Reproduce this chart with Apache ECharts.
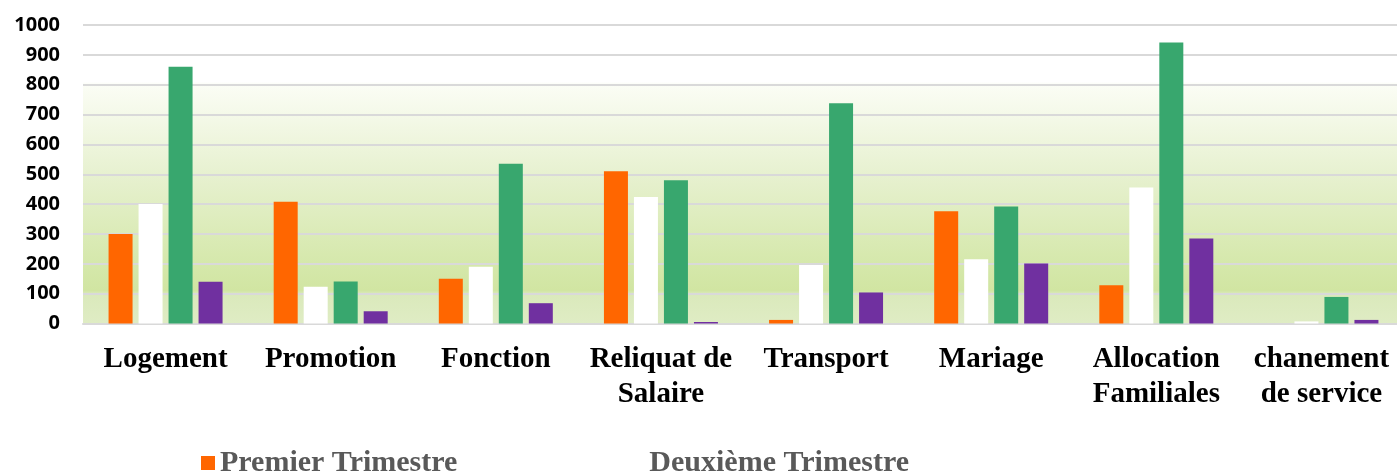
<!DOCTYPE html>
<html>
<head>
<meta charset="utf-8">
<script src="https://cdn.jsdelivr.net/npm/echarts@6/dist/echarts.min.js"></script>
<style>
html,body{margin:0;padding:0;background:#fff;overflow:hidden;}
#chart{width:1404px;height:473px;}
</style>
</head>
<body>
<div id="chart"></div>
<script>
// categories and values
const categories = ['Logement','Promotion','Fonction','Reliquat de\nSalaire','Transport','Mariage','Allocation\nFamiliales','chanement\nde service'];
const premier   = [300, 408, 150, 510, 12, 376, 128, 0];
const deuxieme  = [400, 123, 190, 424, 196, 215, 456, 7];
const troisieme = [860, 141, 535, 480, 738, 392, 941, 89];
const quatrieme = [140, 41, 68, 5, 104, 201, 285, 12];
const yTicks = [0, 100, 200, 300, 400, 500, 600, 700, 800, 900, 1000];

// the plot runs a few px past the right edge of the picture, like the original
const chart = echarts.init(document.getElementById('chart'));

function bar(name, data, color){
    return {
        name: name,
        type: 'bar',
        data: data,
        barWidth: 24,
        barGap: '25%',
        itemStyle: {color: color},
        emphasis: {disabled: true}
    };
}

const option = {
    animation: false,
    grid: {
        left: 83, right: 0, top: 25, bottom: 149.5,
        show: true,
        borderWidth: 0,
        backgroundColor: new echarts.graphic.LinearGradient(0, 0, 0, 1, [
            {offset: 0, color: '#ffffff'},
            {offset: 0.19, color: '#ffffff'},
            {offset: 0.2, color: '#fbfdf5'},
            {offset: 0.5, color: '#e7f1d0'},
            {offset: 0.8, color: '#d5e8ab'},
            {offset: 0.89, color: '#d1e5a2'},
            {offset: 0.9, color: '#dae9bb'},
            {offset: 1, color: '#dfecc4'}
        ])
    },
    legend: {
        data: ['Premier Trimestre', 'Deuxième Trimestre'],
        left: 196,
        top: 443,
        icon: 'rect',
        itemWidth: 14,
        itemHeight: 14,
        itemGap: 173,
        textStyle: {fontFamily: 'Liberation Serif', fontWeight: 'bold', fontSize: 30, color: '#595959'}
    },
    xAxis: {
        type: 'category',
        data: categories,
        axisTick: {show: false},
        axisLine: {lineStyle: {color: '#d9d9d9', width: 2}},
        axisLabel: {
            interval: 0,
            margin: 19,
            fontFamily: 'Liberation Serif',
            fontWeight: 'bold',
            fontSize: 29,
            lineHeight: 35,
            color: '#000'
        }
    },
    yAxis: {
        type: 'value',
        min: yTicks[0],
        max: yTicks[yTicks.length - 1],
        interval: 100,
        axisLine: {show: false},
        axisTick: {show: false},
        splitLine: {lineStyle: {color: '#d9d9d9', width: 2}},
        axisLabel: {
            margin: 23,
            fontFamily: 'Open Sans',
            fontWeight: 'bold',
            fontSize: 20,
            color: '#000',
            formatter: v => String(v)
        }
    },
    series: [
        bar('Premier Trimestre', premier, '#ff6600'),
        bar('Deuxième Trimestre', deuxieme, '#ffffff'),
        bar('Troisième Trimestre', troisieme, '#38a76e'),
        bar('Quatrième Trimestre', quatrieme, '#7030a0')
    ]
};

chart.setOption(option);
</script>
</body>
</html>
